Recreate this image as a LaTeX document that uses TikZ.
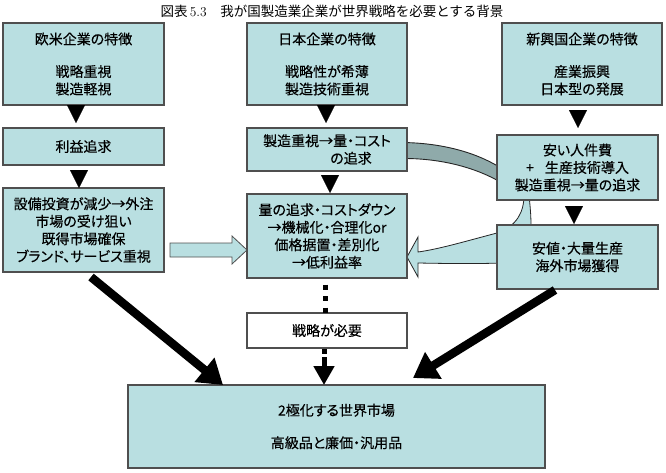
\documentclass[tikz,border=0pt]{standalone}
\usepackage{fontspec}
\newfontfamily\jp[RawFeature=+palt, FakeBold=0.35]{Noto Sans CJK JP}
\newfontfamily\jptitle{Noto Sans CJK JP}
\usetikzlibrary{arrows.meta,calc}
\pgfdeclarelayer{background}
\pgfsetlayers{background,main}

\definecolor{boxfill}{HTML}{B9DFE1}
\definecolor{boxline}{HTML}{4F4F4F}
\definecolor{bandback}{HTML}{8FAAAA}

\begin{document}
\begin{tikzpicture}[x=1pt,y=-1pt,
  box/.style={draw=boxline, line width=1.1pt, fill=boxfill, inner sep=0pt, outer sep=0pt,
    align=center, font=\jp\fontsize{14}{17.5}\selectfont},
  flow/.style={line width=0.1pt, -{Triangle[length=18pt,width=18pt]}},
  bigarrow/.style={line width=8.5pt, -{Triangle[length=24pt,width=30pt]}},
  dotline/.style={line width=5pt, dash pattern=on 5pt off 6.5pt, dash phase=5pt},
  midarrow/.style={line width=5pt, dash pattern=on 5pt off 3pt on 60pt off 1pt, dash phase=68pt,
    -{Triangle[length=19pt,width=20pt]}},
  hollow/.style={draw=boxline, line width=0.8pt, fill=boxfill, line join=miter},
  bandtop/.style={draw=black!85, line width=0.9pt, fill=bandback},
  bandfront/.style={draw=black!85, line width=0.8pt, fill=boxfill, line join=miter}
]
\useasboundingbox (0,0) rectangle (666,472);

% title
\node[inner sep=0pt, font=\fontsize{13.5}{16}\selectfont] (title) at (332,11)
  {{\jptitle 図表}\,5.3\hspace{1em}{\jptitle 我が国製造業企業が世界戦略を必要とする背景}};

% Western companies
\node[box, minimum width=161pt, minimum height=82pt] (A1) at (83.5,64)
  {欧米企業の特徴\\[15pt]戦略重視\\製造軽視};
\node[box, minimum width=161pt, minimum height=37pt] (A2) at (83.5,146.5) {利益追求};
\node[box, minimum width=161pt, minimum height=84pt] (A3) at (83.5,230)
  {設備投資が減少→外注\\市場の受け狙い\\既得市場確保\\ブランド、サービス重視};

% Japanese companies
\node[box, minimum width=160pt, minimum height=82pt] (B1) at (327,64)
  {日本企業の特徴\\[15pt]戦略性が希薄\\製造技術重視};
\node[box, minimum width=160pt, minimum height=43pt] (B2) at (327,149.5)
  {製造重視→量・コスト\\\hspace*{48pt}の追求};
\node[box, minimum width=160pt, minimum height=84pt] (B3) at (327,236)
  {量の追求・コストダウン\\→機械化・合理化or\\価格据置・差別化\\→低利益率};
\node[box, fill=white, minimum width=160pt, minimum height=35pt] (S) at (327,330.5) {戦略が必要};

% Emerging-country companies
\node[box, minimum width=160pt, minimum height=82pt] (C1) at (582,64)
  {新興国企業の特徴\\[15pt]産業振興\\日本型の発展};
\node[box, minimum width=161pt, minimum height=65pt] (C2) at (577.5,167.5)
  {安い人件費\\+\hspace{0.8em}生産技術導入\\製造重視→量の追求};
\node[box, minimum width=161pt, minimum height=64pt] (C3) at (577.5,257)
  {安値・大量生産\\海外市場獲得};

% world market
\node[box, minimum width=417pt, minimum height=83pt] (D) at (336.5,426.5)
  {2極化する世界市場\\[15pt]高級品と廉価・汎用品};

% curved return arrow behind the boxes
\begin{pgfonlayer}{background}
  \draw[bandtop] ($(B2.east)+(-5,-7)$) .. controls (455,143) and (505,160) .. (530,195)
    -- (521,198) .. controls (500,176) and (455,158) .. ($(B2.east)+(-5,9)$) -- cycle;
  \draw[bandfront] (524,195) .. controls (524,212) and (517,226) .. (497,233)
    .. controls (470,240) and (440,249) .. ($(B3.east)+(11,16)$)
    -- ($(B3.east)+(11,1)$) -- ($(B3.east)+(0,21)$) -- ($(B3.east)+(11,41)$)
    -- ($(B3.east)+(11,27)$) .. controls (445,263.5) and (475,264) .. (500,263)
    -- (560,262) -- (531,225) .. controls (531,215) and (530,205) .. (529,195) -- cycle;
\end{pgfonlayer}

% step triangles
\draw[flow] ($(A1.south)+(-7.5,0)$) -- ($(A2.north)+(-7.5,-5)$);
\draw[flow] ($(A2.south)+(-4.5,5)$) -- ($(A3.north)+(-4.5,0)$);
\draw[flow] ($(B1.south)+(-1,0)$) -- ($(B2.north)+(-1,-5)$);
\draw[flow] ($(B2.south)+(3,4)$) -- ($(B3.north)+(3,-1)$);
\draw[flow] ($(C1.south)+(-4,5)$) -- ($(C2.north)+(0.5,-7)$);
\draw[flow] ($(C2.south)+(-3.5,6)$) -- ($(C3.north)+(-3.5,-1)$);

% hollow arrow from A3 to B3
\coordinate (ha) at ($(A3.east)+(6,20)$);
\coordinate (hb) at ($(B3.west)+(0,14)$);
\draw[hollow] ($(ha)+(0,-7)$) -- ($(hb)+(-15,-7)$) -- ($(hb)+(-15,-14)$) -- (hb)
  -- ($(hb)+(-15,14)$) -- ($(hb)+(-15,7)$) -- ($(ha)+(0,7)$) -- cycle;

% dotted line through the strategy box
\draw[dotline] ($(B3.south)+(-2,0)$) -- ($(S.north)+(-2,0)$);
\draw[midarrow] ($(S.south)+(-3,0)$) -- ($(D.north)+(-12.5,0)$);

% heavy arrows into the world market
\draw[bigarrow] ($(A3.south)+(7.5,5)$) -- ($(D.north west)+(95,0)$);
\draw[bigarrow] ($(C3.south)+(-22.5,1)$) -- ($(D.north east)+(-132,-7)$);
\end{tikzpicture}
\end{document}
